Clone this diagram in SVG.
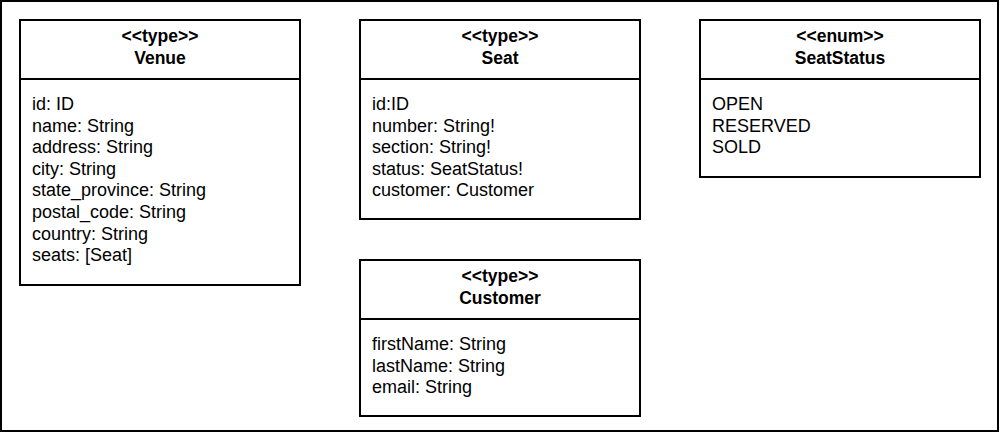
<svg xmlns="http://www.w3.org/2000/svg" width="1000" height="433" viewBox="0 0 1000 433">
<style>
.box{fill:#ffffff;stroke:#000000;stroke-width:2}
.div{stroke:#000000;stroke-width:2}
.hd{font-family:"Liberation Sans",Arial,sans-serif;font-size:17.5px;font-weight:bold;text-anchor:middle;fill:#000}
.tx{font-family:"Liberation Sans",Arial,sans-serif;font-size:18px;fill:#000}
</style>
<rect x="1" y="1" width="997" height="430" fill="#ffffff" stroke="#000000" stroke-width="2"/>
<g id="venue">
<rect class="box" x="20" y="20" width="280" height="265"/>
<line class="div" x1="20" y1="79" x2="300" y2="79"/>
<text class="hd" x="160" y="42">&lt;&lt;type&gt;&gt;</text>
<text class="hd" x="160" y="64">Venue</text>
<text class="tx" x="32" y="110">id: ID</text>
<text class="tx" x="32" y="131.6">name: String</text>
<text class="tx" x="32" y="153.2">address: String</text>
<text class="tx" x="32" y="174.8">city: String</text>
<text class="tx" x="32" y="196.4">state_province: String</text>
<text class="tx" x="32" y="218">postal_code: String</text>
<text class="tx" x="32" y="239.6">country: String</text>
<text class="tx" x="32" y="261.2">seats: [Seat]</text>
</g>
<g id="seat">
<rect class="box" x="360" y="20" width="280" height="199"/>
<line class="div" x1="360" y1="79" x2="640" y2="79"/>
<text class="hd" x="500" y="42">&lt;&lt;type&gt;&gt;</text>
<text class="hd" x="500" y="64">Seat</text>
<text class="tx" x="372" y="110">id:ID</text>
<text class="tx" x="372" y="131.6">number: String!</text>
<text class="tx" x="372" y="153.2">section: String!</text>
<text class="tx" x="372" y="174.8">status: SeatStatus!</text>
<text class="tx" x="372" y="196.4">customer: Customer</text>
</g>
<g id="seatstatus">
<rect class="box" x="700" y="20" width="280" height="157"/>
<line class="div" x1="700" y1="79" x2="980" y2="79"/>
<text class="hd" x="840" y="42">&lt;&lt;enum&gt;&gt;</text>
<text class="hd" x="840" y="64">SeatStatus</text>
<text class="tx" x="712" y="110">OPEN</text>
<text class="tx" x="712" y="131.6">RESERVED</text>
<text class="tx" x="712" y="153.2">SOLD</text>
</g>
<g id="customer">
<rect class="box" x="360" y="260" width="280" height="156"/>
<line class="div" x1="360" y1="319" x2="640" y2="319"/>
<text class="hd" x="500" y="282">&lt;&lt;type&gt;&gt;</text>
<text class="hd" x="500" y="304">Customer</text>
<text class="tx" x="372" y="350">firstName: String</text>
<text class="tx" x="372" y="371.6">lastName: String</text>
<text class="tx" x="372" y="393.2">email: String</text>
</g>
<g id="connectors"></g>
</svg>
